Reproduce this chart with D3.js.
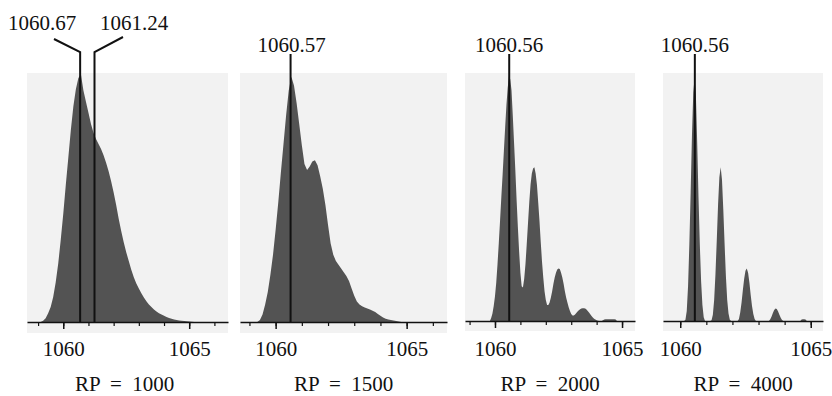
<!DOCTYPE html>
<html><head><meta charset="utf-8">
<script src="https://cdn.jsdelivr.net/npm/d3@7"></script>
<style>
body{margin:0;background:#fff}
svg{display:block}
svg text{font-family:"Liberation Serif","DejaVu Serif","Times New Roman",serif !important;fill:#111}
</style>
</head><body>
<svg id="c" width="832" height="396"></svg>
<script>
// ---------------- data ----------------
const resolvingPowers = ["RP = 1000", "RP = 1500", "RP = 2000", "RP = 4000"];
const peakLabels = [[1060.67, 1061.24], [1060.57], [1060.56], [1060.56]];
const tickLabels = [1060, 1065];
const binStart = [1059.1, 1059.3, 1059.8, 1060.15];
const binStep = [0.1, 0.1, 0.05, 0.05];

const intensity1000 = [0,0.5,1.5,3.5,6,10,16,23.5,33,43.5,55,66,77,86.5,93.5,98,99.5,93,88.5,84,
  79.5,76,73.5,71.5,69.5,67,64,60.5,56.5,52,47,41.5,36.5,32,28,24.5,21,18,15.5,13.5,
  11.5,9.8,8.3,7,6,5,4.2,3.5,3,2.5,2,1.6,1.3,1,0.8,0.6,0.5,0.4,0.3,0.2,0.1,0];

const intensity1500 = [0,0.8,3,7,12,19,27,37,48,60,71.5,83,93,98.5,95,88,79.5,71,63.5,61,
  62.5,64.5,65,63,58.5,53.5,47,39,31.5,27,24.5,23,21.5,20,18.5,16.5,13.5,10.5,8.2,7,
  6.3,5.8,5.4,5,4.5,4,3.2,2.5,1.8,1.3,1,0.8,0.6,0.4,0.2,0];

const intensity2000 = [0,1.2,3,6,10,15.5,23,31.5,40.5,50,59,68.5,78,87,94,98.7,97.5,93,83,72,
  61,49,38,28,19.5,14,13.5,17,23,31,39.5,48,55,59.5,61.5,62,59.5,55,48,40.5,
  32,24,17.5,12,8.5,6.5,6.5,7.5,9.5,12,15,17.5,19.5,20.8,21.2,21,19.5,17.5,15,12,
  9.5,7.5,5.5,4,2.8,2.2,2.2,2.6,3.2,3.8,4.3,4.7,5,5.1,5.1,5,4.6,4,3.4,2.7,
  2,1.4,0.9,0.6,0.3,0.1,0,0,0,0.3,0.6,0.7,0.7,0.7,0.7,0.7,0.7,0.7,0.7,0.6,0];

const intensity4000 = [0,0.5,4,14,31,52,75,92,98,91,72,50,31,16,6.5,1.5,0,0,0,0,
  0,0.3,2.5,8.5,19,32.5,47,58,62,57,45,31,18,8.5,3,0.5,0,0,0,0,
  0,0,0.8,3.5,7.5,12.5,17,20.3,21.2,19.5,15.5,10.5,6,2.8,0.8,0,0,0,0,0,
  0,0,0,0,0,0,0.7,1.8,3.2,4.4,5,4.8,3.8,2.5,1.3,0.4,0,0,0,0,
  0,0,0,0,0,0,0,0,0,0,0.6,0.7,0.7,0.6,0,0];

const series = [intensity1000, intensity1500, intensity2000, intensity4000];

// ---------------- layout ----------------
const layout = [
  {x0: 27,  x1: 228, dom: [1058.56, 1066.54], axisY: 322, bgBottom: 333},
  {x0: 240, x1: 447, dom: [1058.64, 1066.54], axisY: 322, bgBottom: 333},
  {x0: 465, x1: 635, dom: [1058.82, 1065.51], axisY: 321, bgBottom: 331},
  {x0: 663, x1: 823, dom: [1059.34, 1065.47], axisY: 321, bgBottom: 331}
];
const bgTop = 73;
const FONT = '"Liberation Serif","DejaVu Serif","Times New Roman",serif';
const svg = d3.select("#c");

layout.forEach((L, i) => {
  const x = d3.scaleLinear().domain(L.dom).range([L.x0, L.x1]);
  const y = d3.scaleLinear().domain([0, 100]).range([L.axisY, bgTop]);
  const g = svg.append("g");

  g.append("rect").attr("x", L.x0).attr("y", bgTop)
    .attr("width", L.x1 - L.x0).attr("height", L.bgBottom - bgTop)
    .attr("fill", "#f2f2f2");

  const pts = series[i].map((v, k) => ({mz: binStart[i] + k * binStep[i], v}));
  const area = d3.area().x(d => x(d.mz)).y0(L.axisY).y1(d => y(d.v));
  g.append("path").datum(pts).attr("d", area).attr("fill", "#535353");

  // minor ticks
  const ints = d3.range(Math.ceil(L.dom[0]), Math.floor(L.dom[1]) + 1);
  const minor = g.append("g").attr("transform", `translate(0,${L.axisY})`)
    .call(d3.axisBottom(x).tickValues(ints).tickSize(4).tickSizeOuter(0).tickFormat(""));
  minor.select(".domain").attr("stroke", "#111").attr("stroke-width", 1.5);
  minor.selectAll(".tick line").attr("stroke", "#111").attr("stroke-width", 1.2);

  // major ticks with labels
  const major = g.append("g").attr("transform", `translate(0,${L.axisY})`)
    .call(d3.axisBottom(x).tickValues(tickLabels).tickSize(7).tickSizeOuter(0).tickPadding(0).tickFormat(d3.format("d")));
  major.attr("font-family", FONT);
  major.select(".domain").remove();
  major.selectAll(".tick line").attr("stroke", "#111").attr("stroke-width", 1.5);
  major.selectAll(".tick text").attr("y", 356 - L.axisY).attr("dy", 0)
    .attr("font-size", 21).attr("fill", "#111")
    .style("font-family", FONT);

  // RP label
  g.append("text").attr("x", (L.x0 + L.x1) / 2 + (i === 0 ? -3 : 0)).attr("y", 391)
    .attr("text-anchor", "middle").attr("font-size", 21)
    .style("font-family", FONT)
    .attr("word-spacing", "5px")
    .text(resolvingPowers[i]);

  // peak annotations
  if (i === 0) {
    const ends = [[54, 39, 42], [123, 37, 134]];
    peakLabels[0].forEach((p, j) => {
      const px = x(p);
      g.append("polyline")
        .attr("points", `${px},${L.axisY} ${px},52 ${ends[j][0]},${ends[j][1]}`)
        .attr("fill", "none").attr("stroke", "#111").attr("stroke-width", 2);
      g.append("text").attr("x", ends[j][2]).attr("y", 30)
        .attr("text-anchor", "middle").attr("font-size", 21)
        .style("font-family", FONT).text(p.toFixed(2));
    });
  } else {
    const p = peakLabels[i][0];
    const px = x(p);
    g.append("line").attr("x1", px).attr("x2", px).attr("y1", L.axisY).attr("y2", 54)
      .attr("stroke", "#111").attr("stroke-width", 2);
    g.append("text").attr("x", px + (i === 1 ? 1 : 0)).attr("y", 52)
      .attr("text-anchor", "middle").attr("font-size", 21)
      .style("font-family", FONT).text(p.toFixed(2));
  }
});
</script>
</body></html>
